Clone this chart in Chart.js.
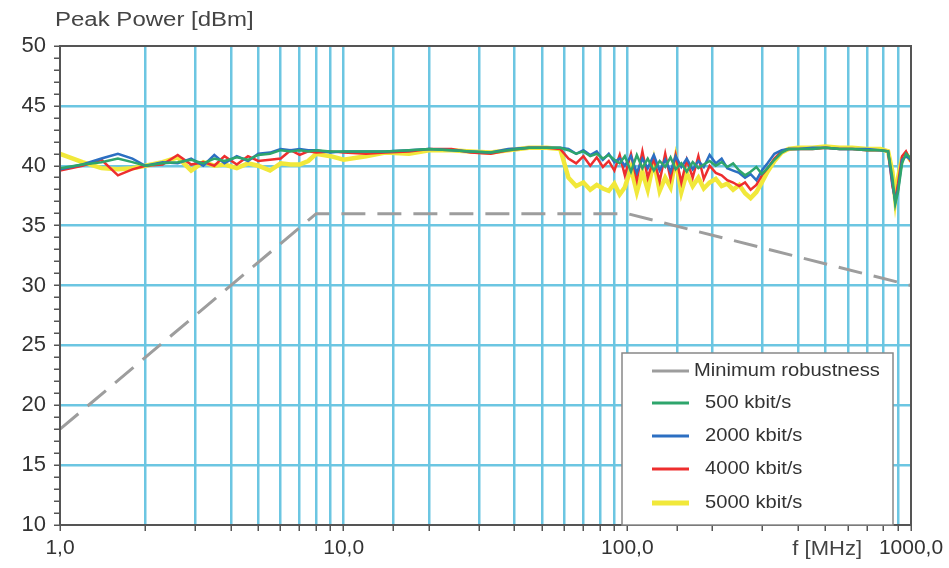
<!DOCTYPE html>
<html>
<head>
<meta charset="utf-8">
<script src="https://cdn.jsdelivr.net/npm/chart.js@4.4.0/dist/chart.umd.min.js"></script>
<style>
	html, body { margin: 0; padding: 0; background: #fff; }
	#wrap { width: 949px; height: 568px; }
</style>
</head>
<body>
<div id="wrap"><canvas id="chart" width="949" height="568"></canvas></div>
<script>
// limit line
var minFreq = [1, 8, 100, 1000];
var minLevel = [18, 36, 36, 30];

// measured frequencies [MHz]
var freq = [1, 1.2, 1.4, 1.6, 1.8, 2, 2.3, 2.6, 2.9, 3.2, 3.5, 3.8, 4.2, 4.6, 5, 5.5, 6, 6.5, 7, 7.5,
	8, 9, 10, 12, 14, 17, 20, 24, 28, 33, 38, 45, 52, 58, 62, 66, 70, 74, 78, 82,
	86, 90, 94, 98, 103, 108, 113, 118, 124, 130, 136, 142, 148, 155, 162, 170, 178, 186, 195, 205,
	215, 225, 236, 248, 260, 272, 285, 298, 312, 330, 350, 370, 400, 450, 500, 560, 620, 700, 780, 830,
	860, 880, 900, 930, 960, 1000];

var kbit500 = [39.8, 40.1, 40.3, 40.6, 40.3, 40.0, 40.2, 40.3, 40.5, 40.2, 40.6, 40.4, 40.7, 40.5, 40.9, 41.0, 41.3, 41.2, 41.3, 41.2,
	41.3, 41.2, 41.2, 41.2, 41.2, 41.3, 41.4, 41.3, 41.2, 41.1, 41.3, 41.5, 41.5, 41.5, 41.3, 41.0, 41.2, 40.8, 41.0, 40.6,
	40.9, 40.5, 40.2, 40.8, 39.5, 40.9, 39.8, 40.6, 39.6, 40.4, 39.9, 40.7, 39.7, 40.2, 39.5, 40.3, 39.8, 40.1, 40.4, 40.0,
	40.3, 39.9, 40.2, 39.6, 39.2, 39.5, 39.9, 39.3, 39.8, 40.5, 41.1, 41.4, 41.4, 41.4, 41.5, 41.4, 41.4, 41.3, 41.3, 41.2,
	39.0, 36.8, 37.8, 40.2, 41.0, 40.6];

var kbit2000 = [39.7, 40.1, 40.6, 41.0, 40.6, 40.0, 40.3, 40.2, 40.6, 40.0, 40.9, 40.2, 40.8, 40.4, 41.0, 41.1, 41.4, 41.3, 41.4, 41.3,
	41.3, 41.1, 41.2, 41.2, 41.2, 41.3, 41.4, 41.3, 41.2, 41.1, 41.4, 41.5, 41.5, 41.5, 41.4, 41.0, 41.3, 40.9, 41.2, 40.5,
	41.0, 40.3, 40.6, 40.0, 40.8, 39.4, 40.6, 39.8, 40.9, 39.6, 40.5, 39.5, 40.8, 39.9, 40.6, 39.7, 40.4, 39.9, 40.9, 40.2,
	40.6, 39.8, 39.6, 39.4, 39.0, 39.3, 38.8, 39.6, 40.2, 41.0, 41.3, 41.4, 41.4, 41.5, 41.5, 41.4, 41.4, 41.4, 41.3, 41.2,
	38.5, 37.0, 38.0, 40.5, 40.8, 40.5];

var kbit4000 = [39.6, 40.0, 40.5, 39.2, 39.7, 40.0, 40.1, 40.9, 40.1, 40.3, 40.0, 40.8, 40.1, 40.8, 40.4, 40.5, 40.6, 41.3, 40.9, 41.2,
	41.1, 41.2, 41.1, 41.0, 41.1, 41.2, 41.4, 41.4, 41.1, 41.0, 41.3, 41.5, 41.5, 41.4, 40.6, 40.2, 40.8, 40.0, 40.7, 39.9,
	40.4, 39.6, 40.9, 39.2, 41.0, 38.8, 41.2, 39.0, 40.6, 38.7, 41.0, 38.9, 40.9, 38.6, 40.5, 39.0, 40.8, 38.9, 40.0, 39.4,
	39.2, 38.8, 38.6, 38.3, 38.6, 38.0, 38.4, 39.2, 39.8, 40.6, 41.2, 41.4, 41.4, 41.4, 41.5, 41.4, 41.4, 41.3, 41.3, 41.2,
	38.3, 37.2, 38.5, 40.8, 41.2, 40.3];

var kbit5000 = [41.0, 40.3, 39.8, 39.7, 39.8, 40.0, 40.3, 40.7, 39.6, 40.3, 40.0, 40.1, 39.8, 40.2, 40.0, 39.6, 40.2, 40.1, 40.1, 40.4,
	41.0, 40.8, 40.5, 40.8, 41.1, 41.0, 41.3, 41.3, 41.2, 41.1, 41.3, 41.5, 41.5, 41.4, 39.0, 38.3, 38.6, 38.0, 38.4, 38.1,
	37.9, 38.5, 37.6, 38.2, 39.8, 37.8, 39.5, 38.0, 40.4, 37.9, 39.0, 38.2, 40.6, 37.8, 39.4, 38.3, 39.0, 38.1, 38.6, 38.9,
	38.3, 38.5, 38.0, 38.4, 37.7, 37.3, 37.8, 38.6, 39.5, 40.4, 41.1, 41.4, 41.5, 41.5, 41.6, 41.5, 41.5, 41.4, 41.4, 41.2,
	39.5, 37.2, 39.0, 40.6, 41.0, 40.4];

var seriesNames = ['Minimum robustness', '500 kbit/s', '2000 kbit/s', '4000 kbit/s', '5000 kbit/s'];
var xLabels = { 1: '1,0', 10: '10,0', 100: '100,0', 1000: '1000,0' };
var yTitle = 'Peak Power [dBm]';
var xTitle = 'f [MHz]';

var gridBlue = '#6cc6e2';
var axisGray = '#555555';
var fontFamily = '"Liberation Sans", Arial, sans-serif';

function pts(xs, ys) {
	return xs.map(function (x, i) { return { x: x, y: ys[i] }; });
}

// text a little wider than the font, as in the scan
function wideText(c, txt, x, y, sx) {
	c.save();
	c.translate(x, y);
	c.scale(sx, 1);
	c.fillText(txt, 0, 0);
	c.restore();
}

// frame, axis captions and the boxed legend
var extras = {
	id: 'extras',
	afterDraw: function (chart) {
		var c = chart.ctx, a = chart.chartArea;
		c.save();
		c.strokeStyle = axisGray;
		c.lineWidth = 2;
		c.strokeRect(a.left, a.top, a.right - a.left, a.bottom - a.top);

		c.fillStyle = '#444';
		c.font = '20px ' + fontFamily;
		c.textBaseline = 'middle';
		c.textAlign = 'left';
		wideText(c, yTitle, 55, 20, 1.2);
		c.textAlign = 'right';
		wideText(c, xTitle, 862, 549, 1.1);

		// legend
		var lx = 622, ly = 353, lw = 271, lh = a.bottom - ly;
		c.fillStyle = '#fff';
		c.fillRect(lx, ly, lw, lh);
		c.strokeStyle = '#888';
		c.lineWidth = 1.5;
		c.strokeRect(lx, ly, lw, lh);
		var rows = [371, 403, 436, 469, 503];
		c.font = '19px ' + fontFamily;
		chart.data.datasets.forEach(function (ds, i) {
			c.strokeStyle = ds.borderColor;
			c.lineWidth = i === 4 ? 5 : 3;
			c.setLineDash([]);
			c.beginPath();
			c.moveTo(652, rows[i]);
			c.lineTo(689, rows[i]);
			c.stroke();
			c.fillStyle = '#333';
			c.textAlign = 'left';
			wideText(c, ds.label, i === 0 ? 694 : 705, rows[i], 1.06);
		});
		c.restore();
	}
};

var ctx = document.getElementById('chart').getContext('2d');
var chart = new Chart(ctx, {
	type: 'line',
	data: {
		datasets: [{
			label: seriesNames[0],
			data: pts(minFreq, minLevel),
			borderColor: '#9d9d9d',
			borderWidth: 3,
			borderDash: [24, 12]
		}, {
			label: seriesNames[1],
			data: pts(freq, kbit500),
			borderColor: '#2ea56c',
			borderWidth: 2.5
		}, {
			label: seriesNames[2],
			data: pts(freq, kbit2000),
			borderColor: '#2c6fc2',
			borderWidth: 2.5
		}, {
			label: seriesNames[3],
			data: pts(freq, kbit4000),
			borderColor: '#ee2e2e',
			borderWidth: 2.5
		}, {
			label: seriesNames[4],
			data: pts(freq, kbit5000),
			borderColor: '#f1e83a',
			borderWidth: 4.5
		}]
	},
	options: {
		responsive: false,
		animation: false,
		elements: { point: { radius: 0 }, line: { tension: 0 } },
		layout: { padding: { top: 46, right: 38, left: 0, bottom: 0 } },
		plugins: {
			legend: { display: false },
			title: { display: false },
			tooltip: { enabled: false }
		},
		scales: {
			x: {
				type: 'logarithmic',
				min: 1,
				max: 1000,
				afterFit: function (s) { s.height = 43; },
				border: { display: false },
				grid: {
					color: function (c) { return c.tick.value === 1 || c.tick.value === 1000 ? 'transparent' : gridBlue; },
					lineWidth: 2.5,
					tickColor: axisGray,
					tickLength: 6,
					tickWidth: 1.5
				},
				ticks: {
					autoSkip: false,
					maxRotation: 0,
					padding: 5,
					color: '#333',
					font: { family: fontFamily, size: 21 },
					callback: function (v) { return xLabels[v] || ''; }
				}
			},
			y: {
				min: 10,
				max: 50,
				afterFit: function (s) { s.width = 60; },
				border: { display: false },
				grid: {
					color: function (c) {
						var v = c.tick.value;
						if (v === 10 || v === 50 || v % 5 !== 0) return 'transparent';
						return gridBlue;
					},
					lineWidth: 2.5,
					tickColor: axisGray,
					tickLength: 6,
					tickWidth: 1.5
				},
				ticks: {
					stepSize: 1,
					autoSkip: false,
					padding: 8,
					color: '#333',
					font: { family: fontFamily, size: 22 },
					callback: function (v) { return v % 5 === 0 ? String(v) : ''; }
				}
			}
		}
	},
	plugins: [extras]
});
</script>
</body>
</html>
